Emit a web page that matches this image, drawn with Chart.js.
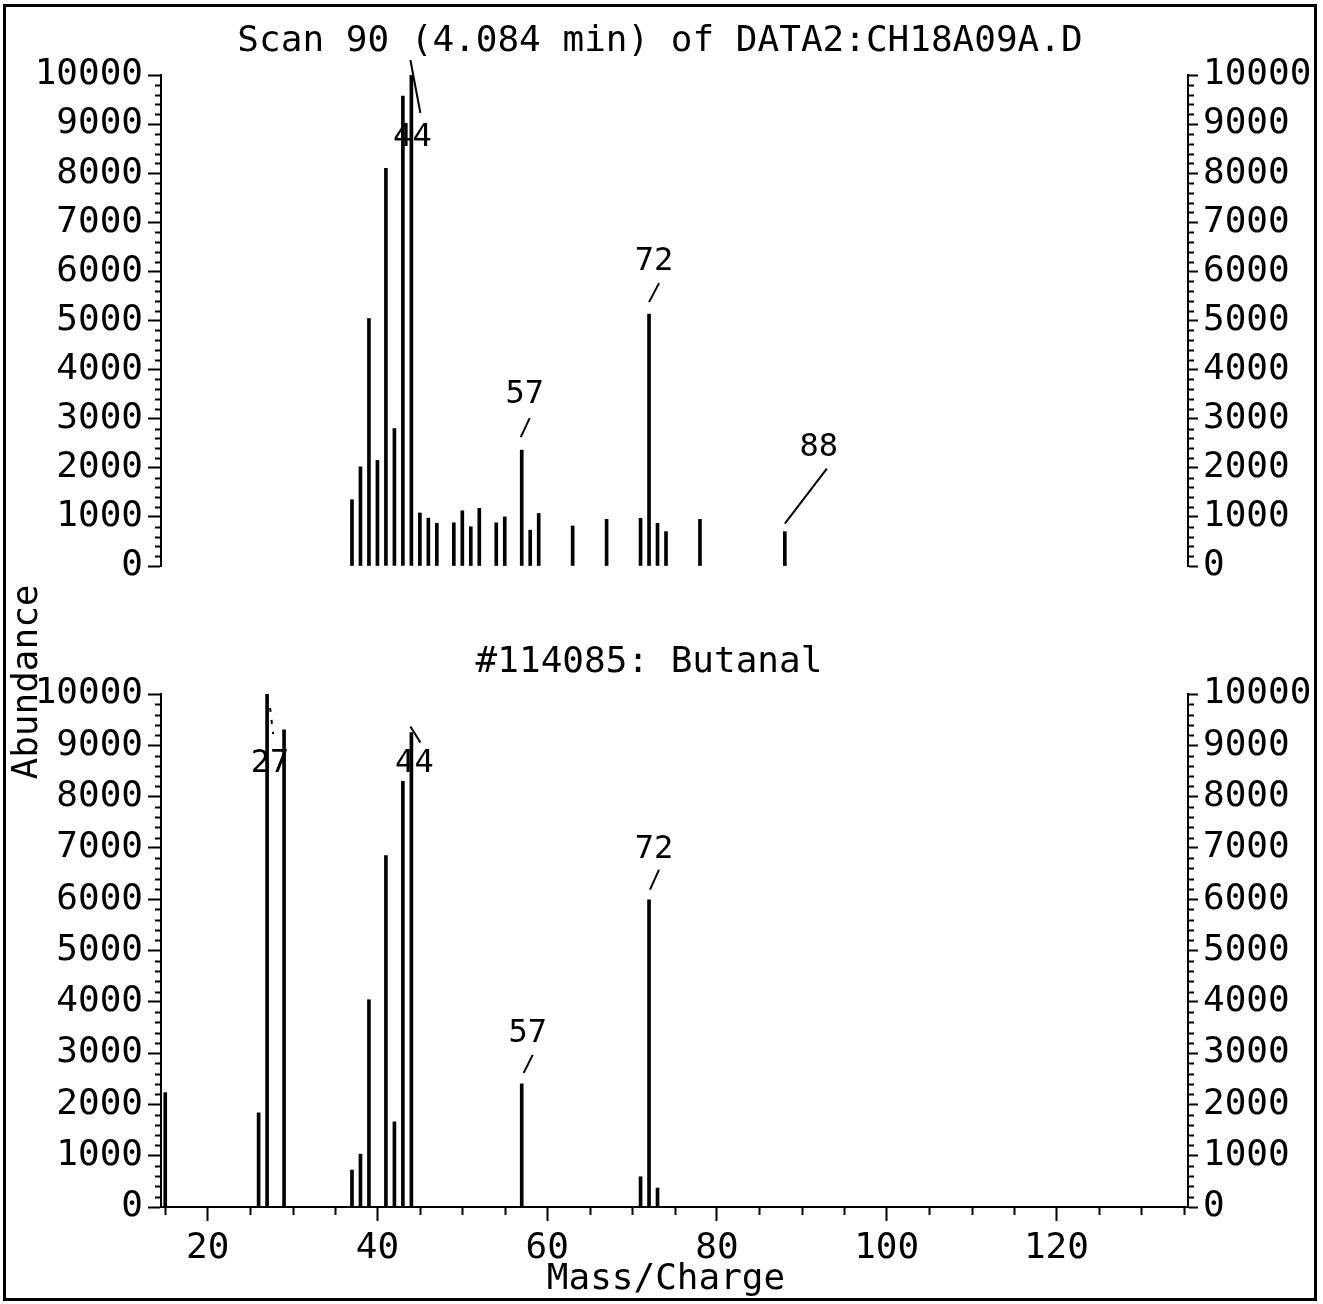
<!DOCTYPE html>
<html>
<head>
<meta charset="utf-8">
<script src="https://cdn.jsdelivr.net/npm/chart.js@4.4.1/dist/chart.umd.min.js"></script>
<style>
  html, body { margin: 0; padding: 0; background: #fff; }
  #wrap { position: relative; width: 1323px; height: 1304px; background: #fff; overflow: hidden; }
  canvas { position: absolute; left: 0; top: 0; }
  #frame { position: absolute; left: 3px; top: 4px; width: 1314px; height: 1297px; border: 3px solid #000; box-sizing: border-box; pointer-events: none; }
</style>
</head>
<body>
<div id="wrap">
  <canvas id="c1" width="1323" height="1304"></canvas>
  <canvas id="c2" width="1323" height="1304"></canvas>
  <div id="frame"></div>
</div>
<script>
// ---------------- data ----------------
const topMz    = [37, 38, 39, 40, 41, 42, 43, 44, 45, 46, 47, 49, 50, 51, 52, 54, 55, 57, 58, 59, 63, 67, 71, 72, 73, 74, 78, 88];
const topAbund = [1350, 2020, 5040, 2150, 8100, 2800, 9570, 10000, 1080, 975, 870, 880, 1125, 800, 1175, 880, 1000, 2360, 730, 1070, 815, 950, 970, 5130, 870, 700, 950, 700];

const refMz    = [15, 26, 27, 29, 37, 38, 39, 41, 42, 43, 44, 57, 71, 72, 73];
const refAbund = [2230, 1835, 10000, 9300, 720, 1030, 4040, 6850, 1660, 8300, 9250, 2400, 590, 5990, 370];

const topLabeled = [44, 57, 72, 88];
const refLabeled = [27, 44, 57, 72];

const xTickLabels = [20, 40, 60, 80, 100, 120];
const yTickValues = [0, 1000, 2000, 3000, 4000, 5000, 6000, 7000, 8000, 9000, 10000];

const topTitle = 'Scan 90 (4.084 min) of DATA2:CH18A09A.D';
const refTitle = '#114085: Butanal';
const xTitle = 'Mass/Charge';
const yTitle = 'Abundance';

// ---------------- style ----------------
const FONT = '"DejaVu Sans Mono", "Liberation Mono", monospace';
const INK = '#000';

// label placement offsets relative to (bar x, bar top)
const topLabelStyle = {
  44: { t: [1, 63],  l: [-1, -15, 9, 38] },
  57: { t: [3, -55], l: [8, -32, -1, -13] },
  72: { t: [5, -52], l: [10, -31, 0, -12] },
  88: { t: [34, -84], l: [42, -63, 0, -8] }
};
const refLabelStyle = {
  27: { t: [3, 70],  l: [3, 14, 6, 40], dash: true },
  44: { t: [3, 31],  l: [-1, -6, 9, 10] },
  57: { t: [6, -50], l: [11, -29, 2, -11] },
  72: { t: [5, -50], l: [10, -30, 1, -10] }
};

function decorPlugin(cfg) {
  return {
    id: 'decor_' + cfg.name,
    afterDraw(chart) {
      const ctx = chart.ctx;
      const x = chart.scales.x, yl = chart.scales.y, yr = chart.scales.y2;
      ctx.save();
      ctx.strokeStyle = INK; ctx.fillStyle = INK; ctx.lineWidth = 2;
      // minor y ticks every 200
      for (let v = 200; v < 10000; v += 200) {
        if (v % 1000 === 0) continue;
        const py = Math.round(yl.getPixelForValue(v)) + 0.5;
        ctx.beginPath(); ctx.moveTo(yl.right, py); ctx.lineTo(yl.right - 6, py); ctx.stroke();
        ctx.beginPath(); ctx.moveTo(yr.left, py); ctx.lineTo(yr.left + 6, py); ctx.stroke();
      }
      // minor x ticks every 5
      if (cfg.xAxis) {
        const by = chart.chartArea.bottom;
        for (let v = 15; v <= 135; v += 5) {
          if (xTickLabels.includes(v)) continue;
          const px = Math.round(x.getPixelForValue(v)) + 0.5;
          ctx.beginPath(); ctx.moveTo(px, by); ctx.lineTo(px, by + 8); ctx.stroke();
        }
      }
      // peak labels
      ctx.font = '32px ' + FONT;
      ctx.textAlign = 'center'; ctx.textBaseline = 'middle';
      cfg.labeled.forEach(m => {
        const i = cfg.mz.indexOf(m);
        const bx = x.getPixelForValue(m);
        const by = yl.getPixelForValue(cfg.ab[i]);
        const st = cfg.style[m];
        ctx.fillText(String(m), bx + st.t[0], by + st.t[1]);
        ctx.setLineDash(st.dash ? [4, 8] : []);
        ctx.beginPath();
        ctx.moveTo(bx + st.l[0], by + st.l[1]);
        ctx.lineTo(bx + st.l[2], by + st.l[3]);
        ctx.stroke();
        ctx.setLineDash([]);
      });
      // texts
      ctx.font = '36px ' + FONT;
      ctx.textAlign = 'center'; ctx.textBaseline = 'middle';
      cfg.texts.forEach(t => {
        if (t.rot) {
          ctx.save(); ctx.translate(t.x, t.y); ctx.rotate(-Math.PI / 2);
          ctx.fillText(t.s, 0, 0); ctx.restore();
        } else {
          ctx.fillText(t.s, t.x, t.y);
        }
      });
      ctx.restore();
    }
  };
}

function makeChart(id, mz, ab, cfg) {
  const tickFont = { family: FONT, size: 36 };
  return new Chart(document.getElementById(id), {
    type: 'bar',
    data: {
      datasets: [{
        data: mz.map((m, i) => ({ x: m, y: ab[i] })),
        backgroundColor: INK, borderWidth: 0, barThickness: 3,
        xAxisID: 'x', yAxisID: 'y'
      }]
    },
    options: {
      responsive: false, animation: false, devicePixelRatio: 1,
      layout: { padding: { top: cfg.padTop, bottom: cfg.padBottom, left: 0, right: 0 } },
      plugins: { legend: { display: false }, tooltip: { enabled: false }, title: { display: false } },
      scales: {
        x: {
          type: 'linear', min: 14.5, max: 135.5, display: cfg.xAxis, offset: false,
          afterFit(s) { if (cfg.xAxis) s.height = cfg.xHeight; },
          afterBuildTicks(s) { s.ticks = xTickLabels.map(v => ({ value: v })); },
          grid: { offset: false, drawOnChartArea: false, drawTicks: true, tickLength: 14, tickWidth: 2, tickColor: INK },
          border: { display: true, color: INK, width: 2 },
          ticks: { color: INK, font: tickFont, padding: 6, maxRotation: 0, autoSkip: false, callback: v => String(v) }
        },
        y: {
          type: 'linear', position: 'left', min: 0, max: 10000,
          afterFit(s) { s.width = 161; },
          afterBuildTicks(s) { s.ticks = yTickValues.map(v => ({ value: v })); },
          grid: { drawOnChartArea: false, drawTicks: true, tickLength: 13, tickWidth: 2, tickColor: INK },
          border: { display: true, color: INK, width: 2 },
          ticks: { color: INK, font: tickFont, padding: 5, autoSkip: false, callback: v => String(v) }
        },
        y2: {
          type: 'linear', position: 'right', min: 0, max: 10000,
          afterFit(s) { s.width = 135; },
          afterBuildTicks(s) { s.ticks = yTickValues.map(v => ({ value: v })); },
          grid: { drawOnChartArea: false, drawTicks: true, tickLength: 10, tickWidth: 2, tickColor: INK },
          border: { display: true, color: INK, width: 2 },
          ticks: { color: INK, font: tickFont, padding: 5, autoSkip: false, callback: v => String(v) }
        }
      }
    },
    plugins: [decorPlugin(Object.assign({ mz, ab }, cfg))]
  });
}

makeChart('c1', topMz, topAbund, {
  name: 'top', padTop: 75, padBottom: 1304 - 566, xAxis: false,
  labeled: topLabeled, style: topLabelStyle,
  texts: [{ s: topTitle, x: 660, y: 42 }]
});

makeChart('c2', refMz, refAbund, {
  name: 'ref', padTop: 694, padBottom: 0, xAxis: true, xHeight: 1304 - 1207,
  labeled: refLabeled, style: refLabelStyle,
  texts: [
    { s: refTitle, x: 649, y: 663 },
    { s: xTitle, x: 666, y: 1280 },
    { s: yTitle, x: 28, y: 682, rot: true }
  ]
});
</script>
</body>
</html>
